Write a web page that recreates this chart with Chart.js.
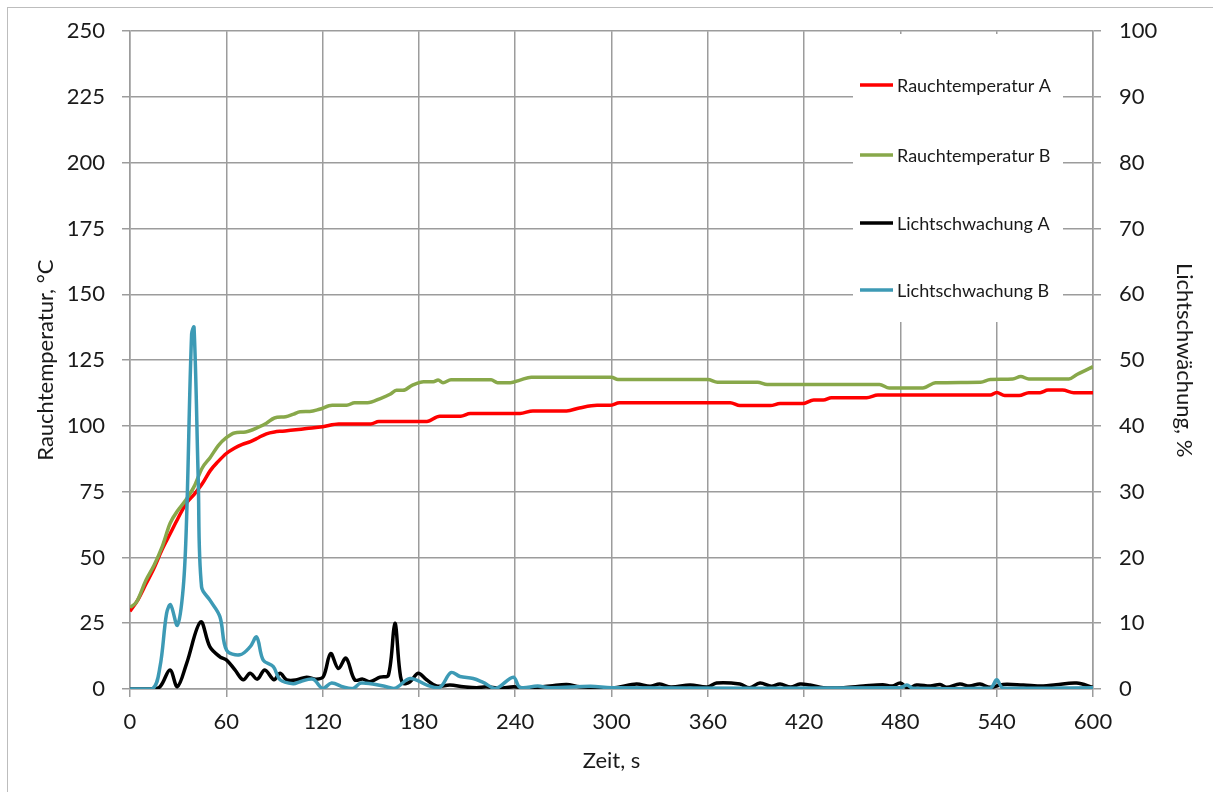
<!DOCTYPE html>
<html>
<head>
<meta charset="utf-8">
<script src="https://cdn.jsdelivr.net/npm/chart.js@4.4.0/dist/chart.umd.min.js"></script>
<style>
  html, body { margin: 0; padding: 0; background: #fff; }
  #wrap { width: 1213px; height: 792px; position: relative; }
</style>
</head>
<body>
<div id="wrap"><canvas id="chart"></canvas></div>
<script>
"use strict";

// Rauchtemperatur A (left axis, degC)
var temp_a_time = [0, 5, 10, 15, 20, 25, 30, 35, 40, 45, 50, 55, 60, 65, 70, 75, 80, 85, 90, 95, 100, 110, 120, 130, 150, 155, 185, 193, 206, 212, 243, 251, 272, 280, 291, 299, 305, 374, 380, 399, 405, 419, 426, 432, 437, 459, 466, 536, 540, 545, 554, 560, 567, 572, 581, 588, 600];
var temp_a = [29.5, 34, 40, 46, 53, 59, 65, 70.5, 74, 78, 83, 86.5, 89.5, 91.5, 93, 94, 95.5, 97, 97.7, 98, 98.3, 99, 99.7, 100.7, 100.7, 101.7, 101.7, 103.7, 103.7, 104.7, 104.7, 105.7, 105.7, 106.8, 107.8, 107.8, 108.8, 108.8, 107.7, 107.7, 108.5, 108.5, 109.8, 109.8, 110.7, 110.7, 111.7, 111.7, 112.7, 111.5, 111.5, 112.6, 112.6, 113.6, 113.6, 112.6, 112.6];

// Rauchtemperatur B (left axis, degC)
var temp_b_time = [0, 4, 10, 15, 20, 25, 30, 35, 40, 45, 50, 55, 60, 65, 72, 80, 85, 90, 97, 102, 106, 112, 118, 126, 135, 140, 148, 156, 162, 166, 170, 176, 183, 189, 192, 195, 200, 225, 229, 237, 243, 250, 300, 304, 360, 366, 391, 397, 467, 473, 494, 502, 530, 536, 550, 555, 560, 585, 590, 595, 600];
var temp_b = [31, 33, 41.4, 47, 54, 63, 68, 72, 77, 84, 88, 92.5, 95.5, 97.3, 97.7, 99.5, 101, 103, 103.5, 104.5, 105.4, 105.5, 106.3, 107.8, 107.8, 108.8, 108.8, 110.4, 112, 113.5, 113.5, 115.5, 116.8, 116.8, 117.4, 116.4, 117.5, 117.5, 116.4, 116.4, 117.4, 118.5, 118.5, 117.6, 117.6, 116.6, 116.6, 115.7, 115.7, 114.4, 114.4, 116.4, 116.6, 117.6, 117.8, 118.8, 117.8, 117.8, 119.5, 121, 122.5];

// Lichtschwaechung A (right axis, %)
var light_a_time = [0, 12.5, 18.7, 24.9, 29.5, 35.3, 44, 49.8, 56, 60.2, 65.4, 70.6, 74.8, 79.3, 84, 89.7, 93.5, 97.6, 104, 110, 116, 120.5, 125, 129.8, 134.6, 140, 145, 149.5, 155.8, 161, 165, 168, 170, 174.5, 179.5, 184.8, 191, 199.4, 207.7, 216, 222, 230.5, 239, 247, 261.7, 272, 280, 288.6, 299, 305, 315.6, 324, 330, 337, 349, 359.8, 365.5, 380, 386, 392.5, 399.6, 405, 411.6, 417.4, 423.6, 432, 444.6, 456.9, 469, 475, 480, 485, 490, 498.6, 504.7, 508.8, 517, 523, 529.6, 535.9, 544, 556.6, 569, 577, 589.8, 600];
var light_a = [0, 0, 0.35, 2.9, 0.35, 3.9, 10.2, 6.4, 4.9, 4.4, 2.9, 1.4, 2.4, 1.5, 2.9, 1.4, 2.4, 1.4, 1.4, 1.8, 1.5, 1.9, 5.4, 3.1, 4.7, 1.4, 1.5, 1.1, 1.8, 2.1, 10, 2.9, 0.9, 1.1, 2.4, 1.4, 0.45, 0.6, 0.35, 0.2, 0.35, 0.1, 0.35, 0.15, 0.45, 0.7, 0.35, 0.25, 0.1, 0.3, 0.75, 0.4, 0.75, 0.3, 0.6, 0.3, 0.9, 0.75, 0.2, 0.9, 0.4, 0.75, 0.3, 0.75, 0.6, 0.2, 0.2, 0.45, 0.65, 0.45, 0.9, 0.1, 0.6, 0.45, 0.7, 0.25, 0.75, 0.45, 0.75, 0.25, 0.7, 0.6, 0.45, 0.65, 0.9, 0.25];

// Lichtschwaechung B (right axis, %)
var light_b_time = [0, 14, 18.7, 22.8, 25.3, 29.5, 33.2, 35.3, 38.4, 39.9, 42.5, 44.6, 49.8, 56, 60.2, 68.5, 74.8, 78.9, 83, 89.3, 93.5, 101.7, 106, 114, 120, 125.6, 133, 139, 144, 158, 165, 174.5, 185, 193, 200, 205.6, 213.8, 220, 228, 238.8, 243, 254, 262, 287, 300, 480, 484, 488, 536, 540, 544, 600];
var light_b = [0, 0, 3.4, 11.5, 12.8, 9.7, 15.5, 26.2, 54, 55, 32, 15.5, 13.5, 11, 5.9, 5.2, 6.4, 7.9, 4.4, 3.4, 1.4, 0.8, 1.1, 1.5, 0.1, 0.9, 0.3, 0.1, 0.9, 0.45, 0.1, 1.6, 0.6, 0.25, 2.5, 1.9, 1.6, 1, 0.1, 1.8, 0.25, 0.45, 0.2, 0.4, 0.2, 0.2, 0.6, 0.1, 0.15, 1.4, 0.15, 0.2];

var x_ticks = [0, 60, 120, 180, 240, 300, 360, 420, 480, 540, 600];

var series_names = ["Rauchtemperatur A", "Rauchtemperatur B", "Lichtschwachung A", "Lichtschwachung B"];
var series_colors = ["#ff0000", "#88a84a", "#000000", "#3d9ab5"];

var grid_color = "#9c9c9c";
var font_family = "Lato, 'Noto Sans', sans-serif";

function to_points(times, values) {
  var pts = [];
  for(var i = 0; i < times.length; i++) {
    pts.push({x: times[i], y: values[i]});
  }
  return pts;
}

function make_dataset(i, times, values, axis, order, smooth) {
  return {
    label: series_names[i],
    data: to_points(times, values),
    yAxisID: axis,
    borderColor: series_colors[i],
    backgroundColor: series_colors[i],
    borderWidth: 3.5,
    pointRadius: 0,
    fill: false,
    order: order,
    cubicInterpolationMode: smooth ? "default" : "monotone",
    tension: smooth ? 0.35 : 0
  };
}

// white box with the legend inside the plot area, like the original
var box_legend = {
  id: "box_legend",
  beforeDraw: function(chart) {
    var ctx = chart.ctx;
    ctx.save();
    ctx.fillStyle = "#fff";
    ctx.fillRect(0, 0, chart.width, chart.height);
    ctx.strokeStyle = "#bdbdbd";
    ctx.lineWidth = 1;
    ctx.strokeRect(7.5, 7.5, 1400, 1400);
    ctx.restore();
  },
  beforeDatasetsDraw: function(chart) {
    var ctx = chart.ctx;
    var rows = [85, 155, 223, 290];
    ctx.save();
    ctx.fillStyle = "#fff";
    ctx.fillRect(853, 34, 210, 288);
    ctx.font = "18px " + font_family;
    ctx.textBaseline = "middle";
    ctx.textAlign = "left";
    for(var i = 0; i < series_names.length; i++) {
      ctx.strokeStyle = series_colors[i];
      ctx.lineWidth = 3.5;
      ctx.beginPath();
      ctx.moveTo(860, rows[i]);
      ctx.lineTo(893, rows[i]);
      ctx.stroke();
      ctx.fillStyle = "#1a1a1a";
      ctx.fillText(series_names[i], 897, rows[i] + 1);
    }
    ctx.restore();
  }
};

function init_chart() {
  var canvas = document.getElementById("chart");
  return new Chart(canvas, {
    type: "line",
    data: {
      datasets: [
        make_dataset(0, temp_a_time, temp_a, "y", 4, false),
        make_dataset(1, temp_b_time, temp_b, "y", 3, false),
        make_dataset(2, light_a_time, light_a, "y1", 2, true),
        make_dataset(3, light_b_time, light_b, "y1", 1, true)
      ]
    },
    options: {
      responsive: true,
      maintainAspectRatio: false,
      animation: false,
      devicePixelRatio: 1,
      layout: { padding: { top: 31, left: 0, right: 0, bottom: 0 } },
      plugins: {
        legend: { display: false },
        tooltip: { enabled: false }
      },
      scales: {
        x: {
          type: "linear",
          min: 0,
          max: 600,
          afterBuildTicks: function(scale) {
            scale.ticks = x_ticks.map(function(v) { return {value: v}; });
          },
          afterFit: function(scale) { scale.height = 103; },
          grid: { color: grid_color, lineWidth: 1.5, tickLength: 8 },
          border: { color: grid_color, width: 1.5 },
          ticks: { color: "#1a1a1a", padding: 12, maxRotation: 0, font: { family: font_family, size: 22 } },
          title: { display: true, text: "Zeit, s", color: "#1a1a1a", padding: { top: 0, bottom: 18 }, font: { family: font_family, size: 22 } }
        },
        y: {
          position: "left",
          min: 0,
          max: 250,
          afterFit: function(scale) { scale.width = 130; },
          grid: { color: grid_color, lineWidth: 1.5, tickLength: 8 },
          border: { color: grid_color, width: 1.5 },
          ticks: { stepSize: 25, color: "#1a1a1a", padding: 17, font: { family: font_family, size: 22 } },
          title: { display: true, text: "Rauchtemperatur, \u00b0C", color: "#1a1a1a", padding: { top: 33, bottom: 0 }, font: { family: font_family, size: 22 } }
        },
        y1: {
          position: "right",
          min: 0,
          max: 100,
          afterFit: function(scale) { scale.width = 120; },
          grid: { drawOnChartArea: false, color: grid_color, lineWidth: 1.5, tickLength: 8 },
          border: { color: grid_color, width: 1.5 },
          ticks: { stepSize: 10, color: "#1a1a1a", padding: 18, font: { family: font_family, size: 22 } },
          title: { display: true, text: "Lichtschw\u00e4chung, %", color: "#1a1a1a", padding: { top: 16, bottom: 0 }, font: { family: font_family, size: 22 } }
        }
      }
    },
    plugins: [box_legend]
  });
}

init_chart();
</script>
</body>
</html>
